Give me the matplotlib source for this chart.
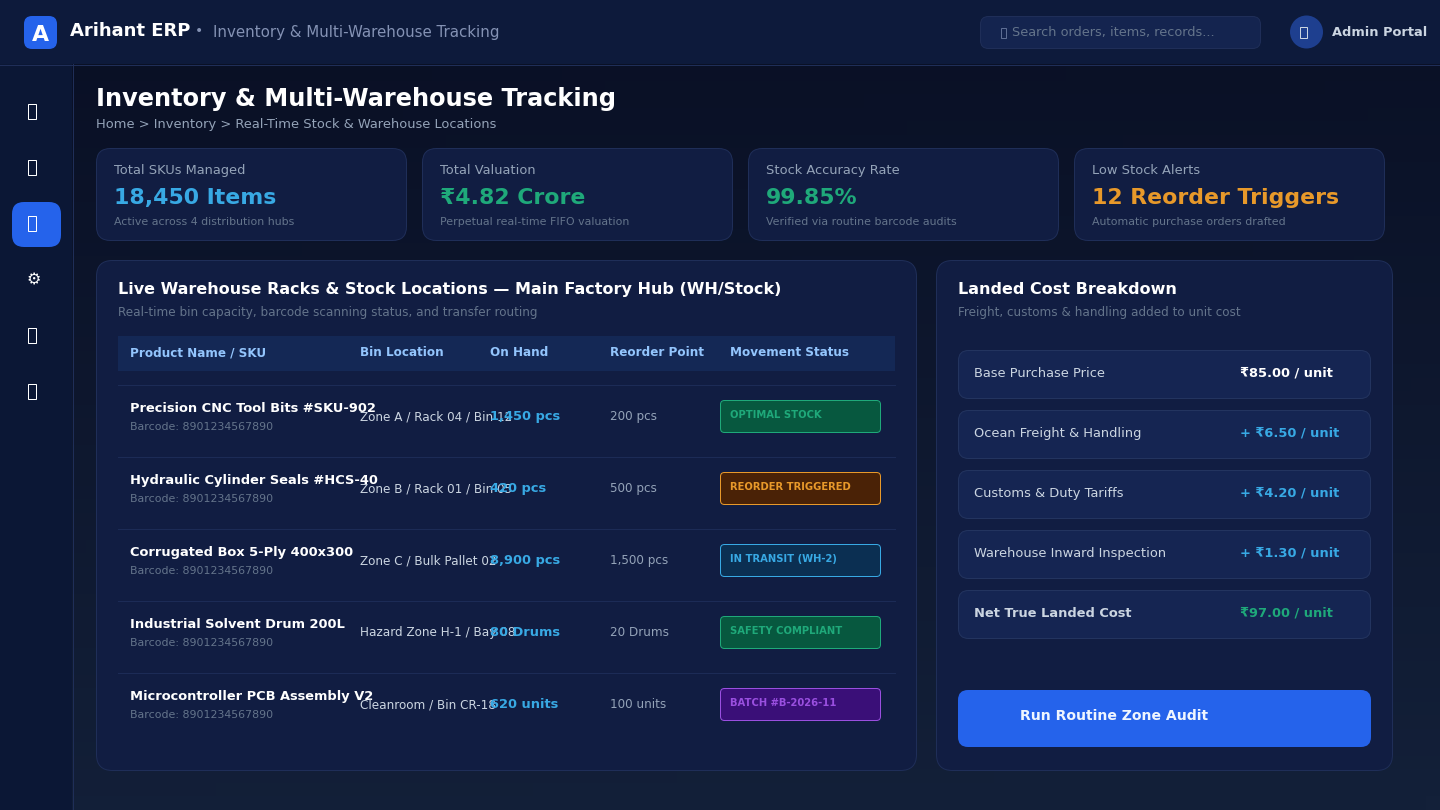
#!/bin/env python3
import numpy as np
import matplotlib
matplotlib.use('Agg')
import matplotlib.pyplot as plt
from matplotlib.patches import FancyBboxPatch, Rectangle, Circle

plt.rcParams['font.family'] = ['DejaVu Sans']

app_name = 'Arihant ERP'
page_title = 'Inventory & Multi-Warehouse Tracking'
breadcrumb = 'Home > Inventory > Real-Time Stock & Warehouse Locations'
search_hint = 'Search orders, items, records...'
user_label = 'Admin Portal'

kpi_labels = ['Total SKUs Managed', 'Total Valuation', 'Stock Accuracy Rate', 'Low Stock Alerts']
kpi_values = ['18,450 Items', '₹4.82 Crore', '99.85%', '12 Reorder Triggers']
kpi_notes = ['Active across 4 distribution hubs', 'Perpetual real-time FIFO valuation',
             'Verified via routine barcode audits', 'Automatic purchase orders drafted']
kpi_colors = ['#38a9e4', '#1fa97a', '#1fa97a', '#e8992a']

table_title = 'Live Warehouse Racks & Stock Locations — Main Factory Hub (WH/Stock)'
table_sub = 'Real-time bin capacity, barcode scanning status, and transfer routing'
columns = ['Product Name / SKU', 'Bin Location', 'On Hand', 'Reorder Point', 'Movement Status']
products = ['Precision CNC Tool Bits #SKU-902', 'Hydraulic Cylinder Seals #HCS-40',
            'Corrugated Box 5-Ply 400x300', 'Industrial Solvent Drum 200L',
            'Microcontroller PCB Assembly V2']
barcode = 'Barcode: 8901234567890'
bins = ['Zone A / Rack 04 / Bin 12', 'Zone B / Rack 01 / Bin 05', 'Zone C / Bulk Pallet 02',
        'Hazard Zone H-1 / Bay 08', 'Cleanroom / Bin CR-18']
on_hand = ['1,450 pcs', '420 pcs', '8,900 pcs', '80 Drums', '620 units']
reorder = ['200 pcs', '500 pcs', '1,500 pcs', '20 Drums', '100 units']
statuses = ['OPTIMAL STOCK', 'REORDER TRIGGERED', 'IN TRANSIT (WH-2)', 'SAFETY COMPLIANT', 'BATCH #B-2026-11']
status_fill = ['#07583f', '#4a2206', '#0b2f52', '#07583f', '#3a0f78']
status_edge = ['#1fa97a', '#e8992a', '#38a9e4', '#1fa97a', '#9a4fe0']

cost_title = 'Landed Cost Breakdown'
cost_sub = 'Freight, customs & handling added to unit cost'
cost_labels = ['Base Purchase Price', 'Ocean Freight & Handling', 'Customs & Duty Tariffs',
               'Warehouse Inward Inspection', 'Net True Landed Cost']
cost_values = ['₹85.00 / unit', '+ ₹6.50 / unit', '+ ₹4.20 / unit', '+ ₹1.30 / unit', '₹97.00 / unit']
button_label = 'Run Routine Zone Audit'

BORDER = '#1f2e58'
PANEL = '#111d42'
LW = 0.72  # one pixel at dpi 100


def box(ax, x0, y0, x1, y1, r, fc, ec='none', z=2):
    p = FancyBboxPatch((x0, y0), x1 - x0, y1 - y0, boxstyle='round,pad=0,rounding_size=%g' % r,
                       fc=fc, ec=ec, lw=LW, zorder=z)
    ax.add_patch(p)


def txt(ax, x, y, s, px, color, bold=False, **kw):
    ax.text(x, y - 1, s, fontsize=px * 0.72, color=color, fontweight='bold' if bold else 'normal',
            va='baseline', ha=kw.pop('ha', 'left'), zorder=kw.pop('zorder', 5), **kw)


def tofu(ax, xc, yc, w, h, color):
    ax.add_patch(Rectangle((xc - w / 2, yc - h / 2), w, h, fc='none', ec=color, lw=LW, zorder=5))


fig = plt.figure(figsize=(14.4, 8.1), dpi=100)
ax = fig.add_axes([0, 0, 1, 1])
ax.set_xlim(0, 1440)
ax.set_ylim(810, 0)
ax.axis('off')

# page background, dark top left going lighter towards the bottom
c0 = np.array([9, 15, 36]) / 255
c1 = np.array([19, 32, 57]) / 255
yy, xx = np.mgrid[0:1:60j, 0:1:100j]
t = np.clip(yy * 0.95 + xx * 0.05, 0, 1)[..., None]
ax.imshow(c0 + (c1 - c0) * t, extent=(0, 1440, 810, 0), aspect='auto', zorder=0)
ax.set_xlim(0, 1440)
ax.set_ylim(810, 0)

# sidebar and header
ax.add_patch(Rectangle((0, 64), 72, 746, fc='#0b1735', ec='none', zorder=1))
ax.add_patch(Rectangle((0, 0), 1440, 64, fc='#0d1a3b', ec='none', zorder=1))
ax.plot([72.5, 72.5], [64, 810], color=BORDER, lw=LW, zorder=2)
ax.plot([0, 1440], [64.5, 64.5], color=BORDER, lw=LW, zorder=2)

box(ax, 24, 16, 57, 49, 8, '#2563eb')
txt(ax, 40.5, 42, 'A', 22, 'white', True, ha='center')
txt(ax, 70, 37, app_name, 18, 'white', True)
txt(ax, 195, 36, '•', 14, '#8492b4')
txt(ax, 213, 38, page_title, 15, '#8492b4')

box(ax, 980.5, 16.5, 1260.5, 48.5, 8, '#14244f', BORDER)
tofu(ax, 1003.5, 32.5, 5.5, 10, '#5e6e94')
txt(ax, 1012, 37, search_hint, 12.9, '#64748b')
ax.add_patch(Circle((1306.5, 32), 16.5, fc='#1e3f8f', ec='none', zorder=2))
tofu(ax, 1303.5, 32, 6.5, 11, '#cbd5e1')
txt(ax, 1332, 37, user_label, 13, '#cbd5e1', True)

# sidebar icons
box(ax, 12, 202, 61, 247, 12, '#2563eb')
for i, yc in enumerate(range(111, 400, 56)):
    if i == 3:
        txt(ax, 34, yc + 6, '⚙', 16, 'white', ha='center')
    else:
        tofu(ax, 31.5, yc + 0.5, 8, 15, 'white')

txt(ax, 96, 107, page_title, 24, 'white', True)
txt(ax, 96, 129, breadcrumb, 13, '#94a3b8')

# kpi cards
for i in range(4):
    x0 = 96.5 + 326 * i
    box(ax, x0, 148.5, x0 + 310, 240.5, 14, PANEL, BORDER)
    txt(ax, x0 + 17.5, 175, kpi_labels[i], 13, '#94a3b8')
    txt(ax, x0 + 17.5, 205, kpi_values[i], 22, kpi_colors[i], True)
    txt(ax, x0 + 17.5, 226, kpi_notes[i], 11, '#64748b')

# table panel
box(ax, 96.5, 260.5, 916.5, 770.5, 16, PANEL, BORDER)
txt(ax, 118, 295, table_title, 16, 'white', True)
txt(ax, 118, 317, table_sub, 12, '#64748b')
ax.add_patch(Rectangle((118, 336), 777, 35, fc='#142855', ec='none', zorder=3))
for x, c in zip([130, 360, 490, 610, 730], columns):
    txt(ax, x, 357, c, 12, '#93c5fd', True)
for i in range(5):
    y = 384 + 72 * i
    ax.plot([118, 895], [y + 0.5, y + 0.5], color='#1c2b56', lw=LW, zorder=3)
    txt(ax, 130, y + 29, products[i], 13, 'white', True)
    txt(ax, 130, y + 47, barcode, 11, '#64748b')
    txt(ax, 360, y + 37, bins[i], 12, '#cbd5e1')
    txt(ax, 490, y + 37, on_hand[i], 13, '#38a9e4', True)
    txt(ax, 610, y + 37, reorder[i], 12, '#94a3b8')
    box(ax, 720.5, y + 16.5, 880.5, y + 48.5, 4, status_fill[i], status_edge[i], z=3)
    txt(ax, 730, y + 35, statuses[i], 10, status_edge[i], True)

# landed cost panel
box(ax, 936.5, 260.5, 1392.5, 770.5, 16, PANEL, BORDER)
txt(ax, 958, 295, cost_title, 16, 'white', True)
txt(ax, 958, 317, cost_sub, 12, '#64748b')
for i in range(5):
    y = 350 + 60 * i
    box(ax, 958.5, y + 0.5, 1370.5, y + 48.5, 10, '#152552', '#23345f', z=3)
    last = i == 4
    txt(ax, 974, y + 28, cost_labels[i], 13, '#cbd5e1', last)
    col = '#1fa97a' if last else ('white' if i == 0 else '#38a9e4')
    txt(ax, 1240, y + 28, cost_values[i], 13, col, True)

box(ax, 958, 690, 1371, 747, 10, '#2563eb')
txt(ax, 1020, 721, button_label, 14, '#eff6ff', True)

plt.savefig('out.png', dpi=100)
plt.close()
